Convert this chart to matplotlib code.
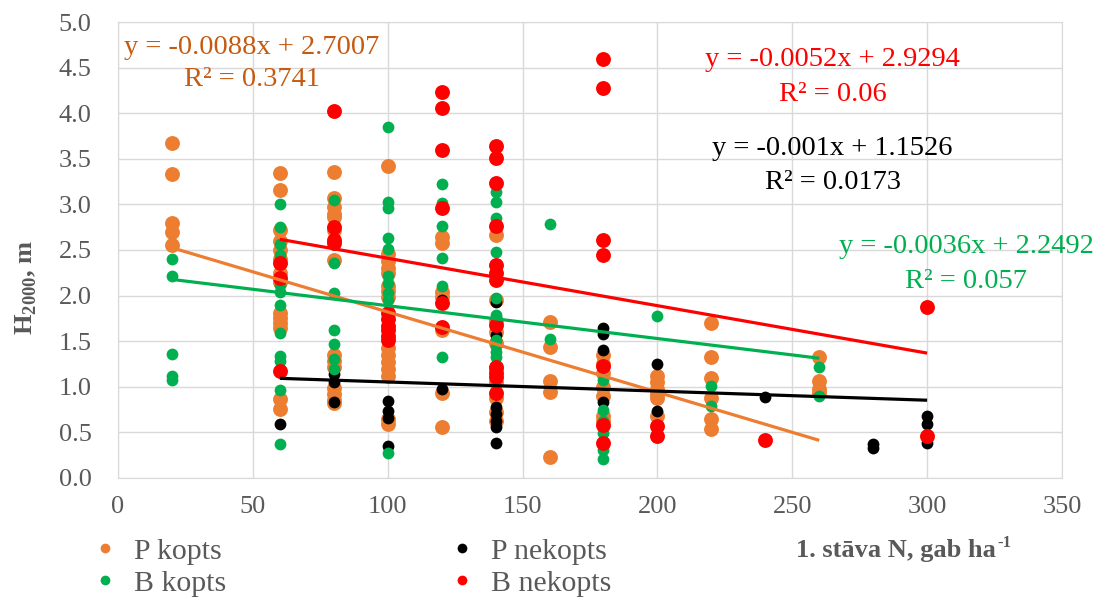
import matplotlib
matplotlib.use("Agg")
import matplotlib.pyplot as plt
from matplotlib.lines import Line2D

# stand density (N, gab/ha) -> heights H2000 (m)
p_kopts = {
    20: [3.67, 3.33, 2.80, 2.70, 2.55],
    60: [3.34, 3.16, 2.72, 2.60, 2.50, 2.40, 2.25, 2.15, 1.81, 1.75, 1.70, 1.65, 0.87, 0.76],
    80: [3.36, 3.07, 2.97, 2.90, 2.86, 2.72, 2.39, 1.35, 1.28, 1.22, 0.99, 0.92, 0.86, 0.82],
    100: [3.42, 2.46, 2.38, 2.30, 2.25, 2.10, 2.05, 1.98, 1.43, 1.35, 1.27, 1.20, 1.12, 0.65, 0.59],
    120: [2.64, 2.58, 2.04, 1.98, 1.62, 0.93, 0.56],
    140: [2.66, 1.95, 1.72, 1.60, 1.48, 1.20, 1.05, 0.88, 0.72, 0.62],
    160: [1.71, 1.44, 1.06, 0.94, 0.23],
    180: [1.35, 1.25, 1.15, 1.00, 0.90, 0.68, 0.62],
    200: [1.12, 1.05, 0.98, 0.92, 0.88, 0.68],
    220: [1.70, 1.33, 1.10, 0.88, 0.65, 0.54],
    260: [1.33, 1.06, 0.98, 0.93],
}
p_nekopts = {
    60: [0.59],
    80: [1.14, 1.05, 0.83],
    100: [0.84, 0.73, 0.66, 0.35],
    120: [1.95, 0.98],
    140: [1.93, 1.57, 0.78, 0.70, 0.62, 0.56, 0.38],
    180: [1.65, 1.58, 1.40, 0.83],
    200: [1.25, 0.73],
    240: [0.89],
    280: [0.37, 0.33],
    300: [0.68, 0.59, 0.38],
}
b_kopts = {
    20: [2.40, 2.21, 1.36, 1.12, 1.07],
    60: [3.00, 2.75, 2.57, 2.45, 2.12, 2.04, 1.90, 1.59, 1.34, 1.28, 0.97, 0.37],
    80: [3.05, 2.36, 2.03, 1.62, 1.47, 1.30, 1.20],
    100: [3.85, 3.03, 2.96, 2.63, 2.51, 2.21, 2.14, 2.03, 1.95, 0.27],
    120: [3.22, 3.01, 2.76, 2.41, 2.11, 1.33],
    140: [3.14, 3.03, 2.85, 2.48, 1.97, 1.79, 1.75, 1.51, 1.45, 1.38, 1.33],
    160: [2.79, 1.52],
    180: [1.07, 0.75, 0.62, 0.49, 0.31, 0.21],
    200: [1.78],
    220: [1.01, 0.79],
    260: [1.22, 0.90],
}
b_nekopts = {
    60: [2.36, 2.19, 1.17],
    80: [4.02, 2.75, 2.61, 2.58],
    100: [1.81, 1.74, 1.67, 1.62, 1.56, 1.51],
    120: [4.23, 4.06, 3.60, 2.96, 1.92, 1.66],
    140: [3.64, 3.51, 3.23, 2.76, 2.34, 2.25, 2.17, 1.68, 1.22, 1.15, 1.11, 0.93],
    180: [4.59, 4.28, 2.61, 2.45, 1.23, 0.58, 0.38],
    200: [0.57, 0.46],
    240: [0.42],
    300: [1.88, 0.46],
}

names = ["P kopts", "P nekopts", "B kopts", "B nekopts"]
colors = ["#ED7D31", "#000000", "#00B050", "#FF0000"]
text_colors = ["#C55A11", "#000000", "#00B050", "#FF0000"]
sizes = [115, 72, 72, 115]

# linear trends as printed on the chart
slopes = [-0.0088, -0.001, -0.0036, -0.0052]
intercepts = [2.7007, 1.1526, 2.2492, 2.9294]
r2_labels = ["0.3741", "0.0173", "0.057", "0.06"]
eq_labels = ["y = -0.0088x + 2.7007", "y = -0.001x + 1.1526",
             "y = -0.0036x + 2.2492", "y = -0.0052x + 2.9294"]
eq_pos = [(49.5, 4.72, 4.37), (265, 3.61, 3.24), (314.5, 2.535, 2.16), (265, 4.59, 4.21)]

plt.rcParams['font.family'] = ['Liberation Serif', 'DejaVu Serif']
plt.rcParams['mathtext.fontset'] = 'custom'
plt.rcParams['mathtext.rm'] = 'Liberation Serif'
plt.rcParams['mathtext.bf'] = 'Liberation Serif:bold'

grey = "#595959"
grid = "#D9D9D9"

fig = plt.figure(figsize=(10.99, 5.98), dpi=100)
ax = fig.add_axes([0.1074, 0.2007, 0.8589, 0.7625])

series = [p_kopts, p_nekopts, b_kopts, b_nekopts]
for data, c, s in zip(series, colors, sizes):
    xs = [x for x, ys in data.items() for _ in ys]
    ys = [y for ys in data.values() for y in ys]
    ax.scatter(xs, ys, s=s, color=c, linewidths=0, zorder=2)

for data, c, tc, k, b, eq, r2, pos in zip(series, colors, text_colors, slopes,
                                          intercepts, eq_labels, r2_labels, eq_pos):
    x0, x1 = min(data), max(data)
    ax.plot([x0, x1], [k * x0 + b, k * x1 + b], color=c, lw=2.3, zorder=3,
            solid_capstyle='butt')
    ax.text(pos[0], pos[1], eq, color=tc, fontsize=20.5, ha='center', va='center')
    ax.text(pos[0], pos[2], "R\u00b2 = " + r2, color=tc, fontsize=20.5,
            ha='center', va='center')

ax.set_xlim(0, 350)
ax.set_ylim(0, 5)
ax.set_xticks(range(0, 351, 50))
ax.set_yticks([i * 0.5 for i in range(11)])
ax.set_yticklabels(["%.1f" % (i * 0.5) for i in range(11)])
ax.tick_params(length=0, labelsize=19, colors=grey)
ax.tick_params(axis='y', pad=19)
ax.tick_params(axis='x', pad=13)
ax.grid(True, color=grid, lw=1)
ax.set_axisbelow(True)
for sp in ax.spines.values():
    sp.set_color(grid)

fig.text(26 / 1099, 1 - 287 / 598, r"H$_{\mathbf{2000}}$, m", rotation=90,
         ha='center', va='center', fontsize=19, fontweight='bold', color=grey)
xl = fig.text(796 / 1099, 1 - 551 / 598, "1. stāva N, gab ha",
              ha='left', va='center', fontsize=19, fontweight='bold', color=grey)
fig.canvas.draw()
bb = xl.get_window_extent(fig.canvas.get_renderer())
fig.text(bb.x1 / 1099 + 0.001, 1 - 543 / 598, "-1", ha='left', va='center',
         fontsize=12, fontweight='bold', color=grey)

order = [0, 2, 1, 3]
handles = [Line2D([], [], ls='', marker='o', markersize=7, color=colors[i],
                  markeredgewidth=0) for i in order]
fig.legend(handles, [names[i] for i in order], ncol=2, loc='upper left',
           bbox_to_anchor=(90 / 1099, 1 - 538 / 598), frameon=False,
           fontsize=21.5, labelcolor=grey, handlelength=1.0, handletextpad=0.47,
           columnspacing=7.4, labelspacing=0.16, borderpad=0, borderaxespad=0)

fig.savefig("out.png", dpi=100)
